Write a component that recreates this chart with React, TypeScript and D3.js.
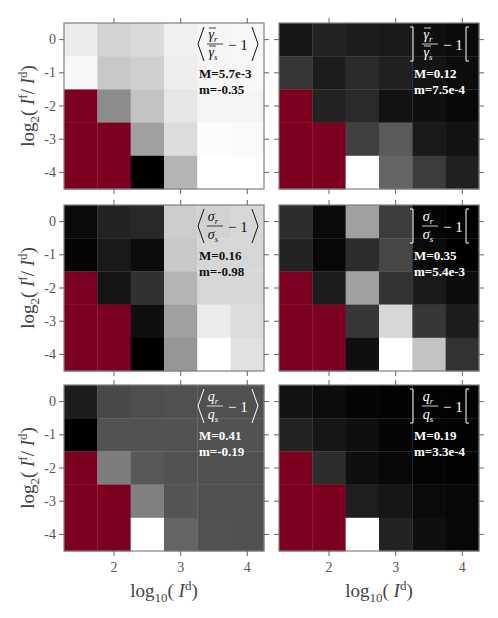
import React from 'react'
import * as d3 from 'd3'

// column centres (log10 I^d) and row centres (log2 I^f/I^d)
const logId = [1.5, 2, 2.5, 3, 3.5, 4]
const logRatio = [0, -1, -2, -3, -4]
const xTicks = [2, 3, 4]
const yTicks = [0, -1, -2, -3, -4]

// grey level of each cell (0 = black, 255 = white), null = no data (red)
const gammaMean = [
  [235, 212, 218, 240, 245, 247],
  [248, 200, 208, 238, 245, 248],
  [null, 140, 195, 230, 245, 245],
  [null, null, 160, 220, 252, 250],
  [null, null, 0, 180, 255, 255]
]
const gammaSpread = [
  [22, 35, 28, 25, 15, 10],
  [55, 28, 42, 32, 20, 12],
  [null, 35, 42, 18, 15, 8],
  [null, null, 65, 90, 25, 18],
  [null, null, 255, 100, 60, 32]
]
const sigmaMean = [
  [10, 35, 40, 205, 210, 215],
  [5, 25, 12, 200, 215, 215],
  [null, 20, 48, 180, 215, 215],
  [null, null, 15, 160, 235, 220],
  [null, null, 0, 150, 255, 225]
]
const sigmaSpread = [
  [45, 10, 160, 60, 5, 0],
  [35, 8, 45, 70, 10, 0],
  [null, 28, 160, 50, 25, 12],
  [null, null, 55, 215, 55, 28],
  [null, null, 15, 255, 195, 50]
]
const qMean = [
  [28, 72, 78, 80, 80, 80],
  [0, 82, 82, 82, 82, 82],
  [null, 125, 88, 82, 80, 80],
  [null, null, 128, 84, 80, 80],
  [null, null, 255, 100, 82, 80]
]
const qSpread = [
  [18, 12, 5, 3, 3, 2],
  [35, 22, 15, 5, 3, 2],
  [null, 45, 15, 8, 5, 3],
  [null, null, 30, 22, 10, 8],
  [null, null, 255, 35, 15, 8]
]

const maxLabels = ['5.7e-3', '0.12', '0.16', '0.35', '0.41', '0.19']
const minLabels = ['-0.35', '7.5e-4', '-0.98', '5.4e-3', '-0.19', '3.3e-4']

const panels = [
  { grid: gammaMean, col: 0, row: 0, sym: 'γ', bar: true, bracket: 'angle', ink: '#111' },
  { grid: gammaSpread, col: 1, row: 0, sym: 'γ', bar: true, bracket: 'square', ink: '#fff' },
  { grid: sigmaMean, col: 0, row: 1, sym: 'σ', bar: false, bracket: 'angle', ink: '#111' },
  { grid: sigmaSpread, col: 1, row: 1, sym: 'σ', bar: false, bracket: 'square', ink: '#fff' },
  { grid: qMean, col: 0, row: 2, sym: 'q', bar: false, bracket: 'angle', ink: '#fff' },
  { grid: qSpread, col: 1, row: 2, sym: 'q', bar: false, bracket: 'square', ink: '#fff' }
]

const W = 498
const H = 618
const panelW = 200
const panelH = 166
const colX = [64, 279]
const rowY = [23, 205, 385]
const NAN_RED = '#7e0021'

const x = d3.scaleLinear().domain([1.25, 4.25]).range([0, panelW])
const y = d3.scaleLinear().domain([0.5, -4.5]).range([0, panelH])
const grey = d3.scaleLinear<string>().domain([0, 255]).range(['#000000', '#ffffff'])

const serif = { fontFamily: '"Liberation Serif", serif' }

function Annotation ({ p, i }) {
  const c = p.ink
  const cx = 151
  const top = 4
  const bot = 38
  const mid = (top + bot) / 2
  let lb, rb
  if (p.bracket === 'angle') {
    lb = `M140,${top}L134,${mid}L140,${bot}`
    rb = `M188,${top}L194,${mid}L188,${bot}`
  } else {
    lb = `M131,${top}L134,${top}L134,${bot}L131,${bot}`
    rb = `M190,${top}L187,${top}L187,${bot}L190,${bot}`
  }
  return (
    <g fill={c}>
      <path d={lb} fill='none' stroke={c} strokeWidth={1} />
      <path d={rb} fill='none' stroke={c} strokeWidth={1} />
      <text x={cx - 2} y={16} fontSize={14} fontStyle='italic' textAnchor='middle' style={serif}>
        {p.sym}<tspan fontSize={9} dy={3}>r</tspan>
      </text>
      <text x={cx - 2} y={34} fontSize={14} fontStyle='italic' textAnchor='middle' style={serif}>
        {p.sym}<tspan fontSize={9} dy={3}>s</tspan>
      </text>
      {p.bar && <line x1={cx - 6} x2={cx + 1} y1={5} y2={5} stroke={c} strokeWidth={0.8} />}
      {p.bar && <line x1={cx - 6} x2={cx + 1} y1={23} y2={23} stroke={c} strokeWidth={0.8} />}
      <line x1={cx - 8} x2={cx + 8} y1={21} y2={21} stroke={c} strokeWidth={0.8} />
      <text x={164} y={27} fontSize={15} style={serif}>− 1</text>
      <text x={135} y={55} fontSize={13} fontWeight='bold' style={serif}>M={maxLabels[i]}</text>
      <text x={135} y={71} fontSize={13} fontWeight='bold' style={serif}>m={minLabels[i]}</text>
    </g>
  )
}

function Panel ({ p, i }) {
  const x0 = colX[p.col]
  const y0 = rowY[p.row]
  const cells = []
  p.grid.forEach((rowVals, ri) => {
    rowVals.forEach((v, ci) => {
      const xa = x(logId[ci] - 0.25)
      const xb = x(logId[ci] + 0.25)
      const ya = y(logRatio[ri] + 0.5)
      const yb = y(logRatio[ri] - 0.5)
      cells.push(
        <rect key={ri + '-' + ci} x={xa} y={ya} width={xb - xa + 0.3} height={yb - ya + 0.3}
          fill={v === null ? NAN_RED : grey(v)} />
      )
    })
  })
  const tk = '#666'
  return (
    <g transform={`translate(${x0},${y0})`}>
      {cells}
      <rect x={0} y={0} width={panelW} height={panelH} fill='none' stroke='#808080' strokeWidth={1.2} />
      {xTicks.map(t => (
        <g key={'x' + t}>
          <line x1={x(t)} x2={x(t)} y1={0} y2={-5} stroke={tk} />
          <line x1={x(t)} x2={x(t)} y1={panelH} y2={panelH + 5} stroke={tk} />
        </g>
      ))}
      {yTicks.map(t => (
        <g key={'y' + t}>
          <line x1={0} x2={-5} y1={y(t)} y2={y(t)} stroke={tk} />
          <line x1={panelW} x2={panelW + 5} y1={y(t)} y2={y(t)} stroke={tk} />
        </g>
      ))}
      {p.col === 0 && yTicks.map(t => (
        <text key={'yl' + t} x={-8} y={y(t) + 4.5} textAnchor='end' fontSize={14}
          style={serif} fill='#555'>{String(t)}</text>
      ))}
      {p.row === 2 && xTicks.map(t => (
        <text key={'xl' + t} x={x(t)} y={panelH + 21} textAnchor='middle' fontSize={14}
          style={serif} fill='#555'>{String(t)}</text>
      ))}
      <Annotation p={p} i={i} />
    </g>
  )
}

function YLabel ({ cy }) {
  return (
    <text transform={`translate(34,${cy}) rotate(-90)`} textAnchor='middle' fontSize={19}
      style={serif} fill='#444'>
      log<tspan fontSize={13} dy={5}>2</tspan>
      <tspan dy={-5}>( </tspan>
      <tspan fontStyle='italic'>I</tspan>
      <tspan fontSize={13} dy={-7}>f</tspan>
      <tspan dy={7}>/ </tspan>
      <tspan fontStyle='italic'>I</tspan>
      <tspan fontSize={13} dy={-7}>d</tspan>
      <tspan dy={7}>)</tspan>
    </text>
  )
}

function XLabel ({ cx }) {
  return (
    <text x={cx} y={597} textAnchor='middle' fontSize={19} style={serif} fill='#444'>
      log<tspan fontSize={13} dy={5}>10</tspan>
      <tspan dy={-5}>( </tspan>
      <tspan fontStyle='italic'>I</tspan>
      <tspan fontSize={13} dy={-7}>d</tspan>
      <tspan dy={7}>)</tspan>
    </text>
  )
}

export default function App () {
  return (
    <svg width={W} height={H} style={{ position: 'absolute', left: 0, top: 0, background: '#fff' }}>
      {panels.map((p, i) => <Panel key={i} p={p} i={i} />)}
      {rowY.map(r => <YLabel key={r} cy={r + panelH / 2} />)}
      {colX.map(c => <XLabel key={c} cx={c + panelW / 2} />)}
    </svg>
  )
}
